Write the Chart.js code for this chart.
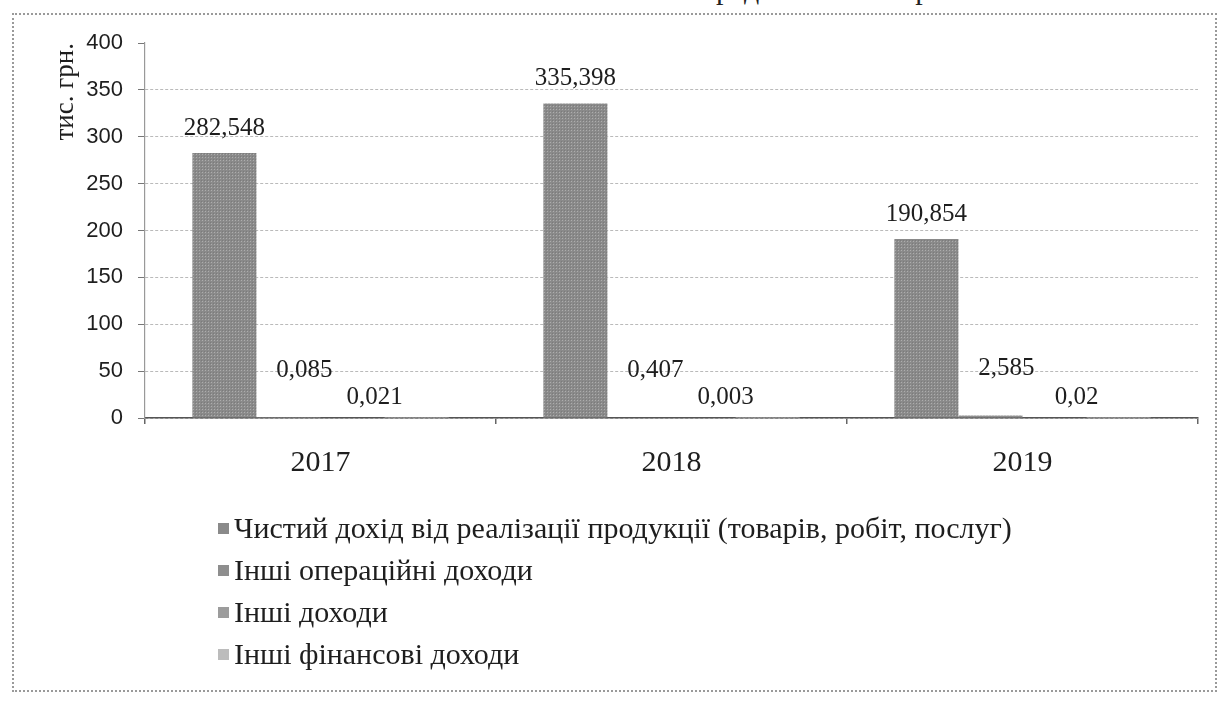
<!DOCTYPE html>
<html lang="uk">
<head>
<meta charset="utf-8">
<title>Доходи підприємства, тис. грн.</title>
<script src="https://cdn.jsdelivr.net/npm/chart.js@4.4.1/dist/chart.umd.min.js"></script>
<style>
    html, body { margin: 0; padding: 0; background: #fff; }
    #wrap { position: relative; width: 1221px; height: 701px; overflow: hidden; background: #fff; }
    #frame { position: absolute; left: 12px; top: 13px; width: 1205px; height: 679px; box-sizing: border-box; border: 2px dotted #9a9a9a; }
    #cut { position: absolute; left: 700px; top: -28px; font-family: "Liberation Serif", serif; font-size: 30px; color: #222; white-space: nowrap; }
    #chartBox { position: absolute; left: 0; top: 0; width: 1221px; height: 701px; }
    #legend { position: absolute; left: 218px; top: 507px; font-family: "Liberation Serif", serif; font-size: 30px; color: #1e1e1e; }
    .item { height: 42px; line-height: 42px; white-space: nowrap; }
    .sw { display: inline-block; width: 11px; height: 11px; margin-right: 5px; vertical-align: middle; position: relative; top: -3px; }
</style>
</head>
<body>
<div id="wrap">
    <div id="cut">представлена на рис.3.</div>
    <div id="frame"></div>
    <div id="chartBox"><canvas id="incomeChart"></canvas></div>
    <div id="legend"></div>
</div>
<script>
// Data
const years = ['2017', '2018', '2019'];
const seriesNames = [
    'Чистий дохід від реалізації продукції (товарів, робіт, послуг)',
    'Інші операційні доходи',
    'Інші доходи',
    'Інші фінансові доходи'
];
const netRevenue = [282.548, 335.398, 190.854];
const otherOperating = [0.085, 0.407, 2.585];
const otherIncome = [null, null, null];
const otherFinancial = [0.021, 0.003, 0.02];
const yTicks = [0, 50, 100, 150, 200, 250, 300, 350, 400];

// Greys for each series (bars are almost the same in the scan)
const seriesColors = ['#8a8a8a', '#8e8e8e', '#9c9c9c', '#bcbcbc'];

// where each series' value label sits relative to its bar top
const labelShift = [
    { dx: 0, dy: -25 },
    { dx: 16, dy: -47 },
    { dx: 0, dy: -20 },
    { dx: -42, dy: -21 }
];

// Small dotted texture like the printed bars
function makePattern(color) {
    const c = document.createElement('canvas');
    c.width = 3;
    c.height = 3;
    const g = c.getContext('2d');
    g.fillStyle = color;
    g.fillRect(0, 0, 3, 3);
    g.fillStyle = 'rgba(255,255,255,0.3)';
    g.fillRect(1, 1, 1, 1);
    g.fillStyle = 'rgba(0,0,0,0.1)';
    g.fillRect(0, 0, 1, 1);
    return g.createPattern(c, 'repeat');
}

function fmt(v) {
    return String(v).replace('.', ',');
}

// Draw the value labels above the bars
const valueLabels = {
    id: 'valueLabels',
    afterDatasetsDraw(chart) {
        const ctx = chart.ctx;
        ctx.save();
        ctx.font = '25px "Liberation Serif", serif';
        ctx.fillStyle = '#1e1e1e';
        ctx.textAlign = 'center';
        ctx.textBaseline = 'middle';
        chart.data.datasets.forEach((ds, i) => {
            const meta = chart.getDatasetMeta(i);
            meta.data.forEach((bar, j) => {
                const v = ds.data[j];
                if (v === null || v === undefined) return;
                ctx.fillText(fmt(v), bar.x + labelShift[i].dx, bar.y + labelShift[i].dy);
            });
        });
        ctx.restore();
    }
};

const seriesValues = [netRevenue, otherOperating, otherIncome, otherFinancial];

const incomeChart = new Chart(document.getElementById('incomeChart'), {
    type: 'bar',
    data: {
        labels: years,
        datasets: seriesNames.map((name, i) => ({
            label: name,
            data: seriesValues[i],
            backgroundColor: makePattern(seriesColors[i]),
            borderWidth: 0,
            barPercentage: 1,
            categoryPercentage: 0.73
        }))
    },
    options: {
        responsive: true,
        maintainAspectRatio: false,
        animation: false,
        devicePixelRatio: 1,
        layout: { padding: { left: 46, top: 43, right: 23, bottom: 223 } },
        plugins: {
            legend: { display: false },
            tooltip: { enabled: false }
        },
        scales: {
            x: {
                afterFit: s => { s.height = 60; },
                grid: { drawOnChartArea: false, drawTicks: true, tickLength: 6, color: '#666', lineWidth: 1.5 },
                border: { color: '#555', width: 1.5 },
                ticks: {
                    color: '#1e1e1e',
                    padding: 21,
                    font: { family: '"Liberation Serif", serif', size: 30 }
                }
            },
            y: {
                min: 0,
                max: 400,
                afterFit: s => { s.width = 99; },
                afterBuildTicks: s => { s.ticks = yTicks.map(v => ({ value: v })); },
                grid: {
                    color: c => (c.tick && c.tick.value === 400) ? 'rgba(0,0,0,0)' : '#bababa',
                    tickColor: '#777',
                    tickLength: 7,
                    lineWidth: 1
                },
                border: { color: '#999', width: 1.2, dash: [3, 2] },
                ticks: {
                    color: '#1e1e1e',
                    padding: 15,
                    font: { family: '"Liberation Sans", sans-serif', size: 22 }
                },
                title: {
                    display: true,
                    text: 'тис. грн.',
                    align: 'end',
                    color: '#1e1e1e',
                    padding: { top: 4, bottom: 0 },
                    font: { family: '"Liberation Serif", serif', size: 27 }
                }
            }
        }
    },
    plugins: [valueLabels]
});

// Vertical legend under the chart, built from the datasets
document.getElementById('legend').innerHTML = seriesNames.map((name, i) => `
    <div class="item"><span class="sw" style="background:${seriesColors[i]}"></span>${name}</div>
`).join('');
</script>
</body>
</html>
